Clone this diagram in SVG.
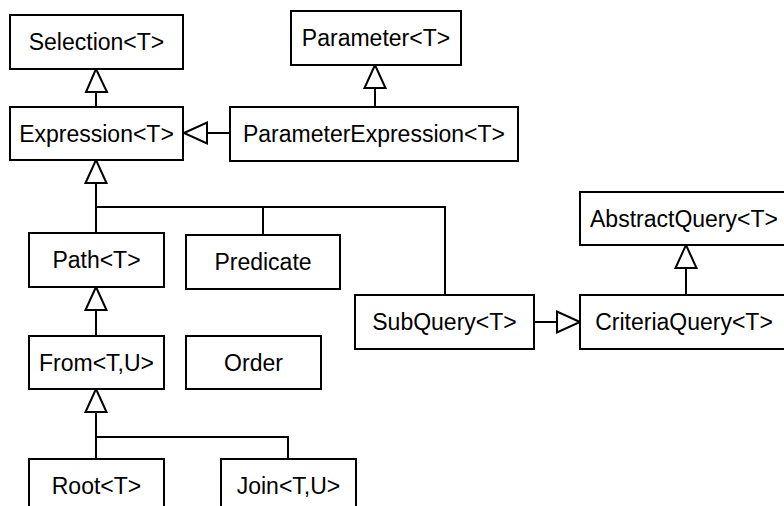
<svg xmlns="http://www.w3.org/2000/svg" width="784" height="506" viewBox="0 0 784 506">
  <style>
    .box { fill: #ffffff; stroke: #000000; stroke-width: 2; }
    .lbl { font-family: "Liberation Sans", Arial, sans-serif; font-size: 23px; fill: #000000; text-anchor: middle; }
    .edge { fill: none; stroke: #000000; stroke-width: 2; }
    .head { fill: #ffffff; stroke: #000000; stroke-width: 2; stroke-linejoin: miter; }
  </style>
  <rect width="784" height="506" fill="#ffffff"/>

  <!-- generalization connectors with hollow triangle heads -->
  <g id="connectors">
    <!-- Expression -> Selection -->
    <path class="edge" d="M96 92 V107"/>
    <path class="head" d="M96 69 L86 92 L107 92 Z"/>
    <!-- ParameterExpression -> Parameter -->
    <path class="edge" d="M375 88 V107"/>
    <path class="head" d="M375 65 L364.5 88 L385.5 88 Z"/>
    <!-- ParameterExpression -> Expression -->
    <path class="edge" d="M207 133 H230"/>
    <path class="head" d="M184 133 L207 122.5 L207 143.5 Z"/>
    <!-- Path, Predicate, SubQuery -> Expression -->
    <path class="edge" d="M96 183 V233 M96 207 H445 V295 M263 207 V235"/>
    <path class="head" d="M96 160 L85.5 183 L106.5 183 Z"/>
    <!-- From -> Path -->
    <path class="edge" d="M96 310 V336"/>
    <path class="head" d="M96 287 L85.5 310 L106.5 310 Z"/>
    <!-- Root, Join -> From -->
    <path class="edge" d="M96 412 V459 M96 437 H288 V459"/>
    <path class="head" d="M96 389 L85.5 412 L106.5 412 Z"/>
    <!-- CriteriaQuery -> AbstractQuery -->
    <path class="edge" d="M686 268 V295"/>
    <path class="head" d="M686 245 L675.5 268 L696.5 268 Z"/>
    <!-- SubQuery -> CriteriaQuery -->
    <path class="edge" d="M534 322 H557"/>
    <path class="head" d="M580 322 L557 311.5 L557 332.5 Z"/>
  </g>

  <g id="selection">
    <rect class="box" x="10" y="15" width="173" height="54"/>
    <text class="lbl" x="96.5" y="50">Selection&lt;T&gt;</text>
  </g>
  <g id="expression">
    <rect class="box" x="10" y="107" width="173" height="53"/>
    <text class="lbl" x="96.5" y="141.5">Expression&lt;T&gt;</text>
  </g>
  <g id="parameter">
    <rect class="box" x="291" y="11" width="170" height="54"/>
    <text class="lbl" x="376" y="46">Parameter&lt;T&gt;</text>
  </g>
  <g id="parameter-expression">
    <rect class="box" x="230" y="107" width="288" height="54"/>
    <text class="lbl" x="374" y="142">ParameterExpression&lt;T&gt;</text>
  </g>
  <g id="path">
    <rect class="box" x="29" y="233" width="135" height="54"/>
    <text class="lbl" x="96.5" y="268">Path&lt;T&gt;</text>
  </g>
  <g id="predicate">
    <rect class="box" x="186" y="235" width="154" height="54"/>
    <text class="lbl" x="263" y="270">Predicate</text>
  </g>
  <g id="subquery">
    <rect class="box" x="355" y="295" width="179" height="54"/>
    <text class="lbl" x="444.5" y="330">SubQuery&lt;T&gt;</text>
  </g>
  <g id="abstract-query">
    <rect class="box" x="580" y="192" width="210" height="53"/>
    <text class="lbl" x="684" y="226.5">AbstractQuery&lt;T&gt;</text>
  </g>
  <g id="criteria-query">
    <rect class="box" x="580" y="295" width="210" height="54"/>
    <text class="lbl" x="684" y="330">CriteriaQuery&lt;T&gt;</text>
  </g>
  <g id="from">
    <rect class="box" x="29" y="336" width="135" height="53"/>
    <text class="lbl" x="96.5" y="370.5">From&lt;T,U&gt;</text>
  </g>
  <g id="order">
    <rect class="box" x="186" y="336" width="135" height="53"/>
    <text class="lbl" x="253.5" y="370.5">Order</text>
  </g>
  <g id="root">
    <rect class="box" x="29" y="459" width="135" height="54"/>
    <text class="lbl" x="96.5" y="494">Root&lt;T&gt;</text>
  </g>
  <g id="join">
    <rect class="box" x="221" y="459" width="135" height="54"/>
    <text class="lbl" x="288.5" y="494">Join&lt;T,U&gt;</text>
  </g>
</svg>
